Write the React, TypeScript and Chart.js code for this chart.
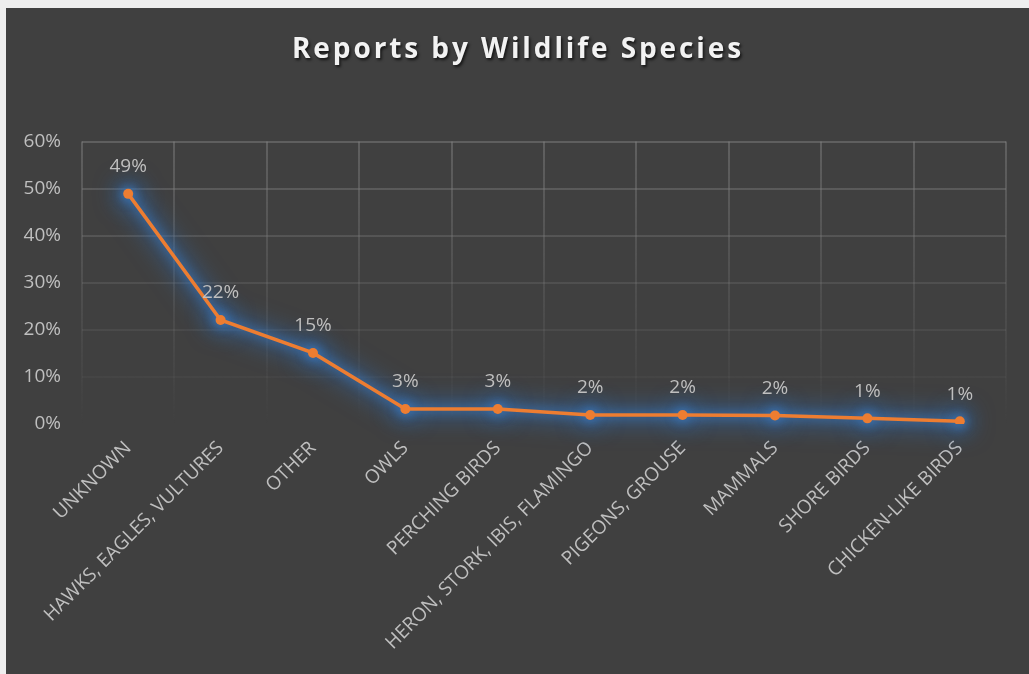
import React, { useEffect, useRef } from 'react';
import { Chart, registerables } from 'chart.js';

Chart.register(...registerables);

const TITLE = 'Reports by Wildlife Species';
const categories = [
  'UNKNOWN',
  'HAWKS, EAGLES, VULTURES',
  'OTHER',
  'OWLS',
  'PERCHING BIRDS',
  'HERON, STORK, IBIS, FLAMINGO',
  'PIGEONS, GROUSE',
  'MAMMALS',
  'SHORE BIRDS',
  'CHICKEN-LIKE BIRDS',
];
const shares = [0.489, 0.221, 0.151, 0.032, 0.032, 0.019, 0.019, 0.018, 0.012, 0.006];
const yMin = 0;
const yMax = 0.6;
const yStep = 0.1;

const pct = (v: number) => `${Math.round(v * 100)}%`;

const gridGradient = (ctx: any) => {
  const chart = ctx.chart;
  const area = chart.chartArea;
  if (!area) return 'rgba(0,0,0,0)';
  const g = chart.ctx.createLinearGradient(0, area.top, 0, area.bottom);
  g.addColorStop(0, 'rgba(125,125,125,0.52)');
  g.addColorStop(1, 'rgba(125,125,125,0)');
  return g;
};

const stylePlugin = {
  id: 'styleFx',
  beforeDraw(chart: any) {
    const tb = chart.titleBlock;
    if (tb && !tb.__wrapped) {
      const orig = tb.draw.bind(tb);
      tb.draw = (...args: any[]) => {
        const c = chart.ctx;
        c.save();
        c.translate(12, 2);
        (c as any).letterSpacing = '2.9px';
        c.shadowColor = 'rgba(0,0,0,0.7)';
        c.shadowBlur = 3;
        c.shadowOffsetX = 1.5;
        c.shadowOffsetY = 2;
        orig(...args);
        c.restore();
      };
      tb.__wrapped = true;
    }
  },
  beforeDatasetsDraw(chart: any) {
    const c = chart.ctx;
    const pts = chart.getDatasetMeta(0).data as any[];
    // soft blue glow (shadow only) beneath the series, following its own points
    const OFF = 5000;
    c.save();
    c.shadowOffsetX = OFF;
    c.shadowOffsetY = 0;
    c.strokeStyle = '#000';
    c.fillStyle = '#000';
    c.lineJoin = 'round';
    c.lineCap = 'round';
    const pass = (blur: number, color: string, lw: number, r: number) => {
      c.shadowBlur = blur;
      c.shadowColor = color;
      c.lineWidth = lw;
      c.beginPath();
      pts.forEach((p, i) => (i === 0 ? c.moveTo(p.x - OFF, p.y) : c.lineTo(p.x - OFF, p.y)));
      c.stroke();
      pts.forEach((p) => {
        c.beginPath();
        c.arc(p.x - OFF, p.y, r, 0, Math.PI * 2);
        c.fill();
      });
    };
    pass(24, 'rgba(50,110,180,0.75)', 14, 10);
    pass(10, 'rgba(60,125,200,0.5)', 8, 8);
    c.restore();
  },
  afterDatasetsDraw(chart: any) {
    const c = chart.ctx;
    const meta = chart.getDatasetMeta(0);
    const data = chart.data.datasets[0].data as number[];
    c.save();
    c.font = "19px 'Open Sans', sans-serif";
    c.fillStyle = '#bfbfbf';
    c.textAlign = 'center';
    c.textBaseline = 'middle';
    meta.data.forEach((pt: any, i: number) => {
      c.fillText(pct(data[i]), pt.x, pt.y - 27);
    });
    c.restore();
  },
};

export default function App() {
  const ref = useRef<HTMLCanvasElement>(null);

  useEffect(() => {
    document.body.style.margin = '0';
    document.body.style.background = '#eeeeee';
    Chart.defaults.font.family = "'Open Sans', sans-serif";
    const chart = new Chart(ref.current!, {
      type: 'line',
      data: {
        labels: categories,
        datasets: [
          {
            data: shares,
            borderColor: '#ED7D31',
            backgroundColor: '#ED7D31',
            borderWidth: 3.5,
            pointRadius: 5,
            pointBorderWidth: 0,
            pointBackgroundColor: '#ED7D31',
            tension: 0,
          },
        ],
      },
      options: {
        responsive: false,
        animation: false,
        devicePixelRatio: 1,
        layout: { padding: { left: 0, right: 23, top: 0, bottom: 0 } },
        plugins: {
          legend: { display: false },
          tooltip: { enabled: false },
          title: {
            display: true,
            text: TITLE,
            color: '#f2f2f2',
            font: { size: 28, weight: 'bold', family: "'Open Sans', sans-serif" },
            padding: { top: 23, bottom: 77 },
          },
        },
        scales: {
          x: {
            offset: true,
            grid: { display: true, offset: true, color: gridGradient, lineWidth: 2, drawTicks: false },
            border: { display: false },
            ticks: {
              color: '#bfbfbf',
              font: { size: 19 },
              maxRotation: 45,
              minRotation: 45,
              autoSkip: false,
              padding: 13,
            },
            afterFit: (s: any) => {
              s.height = 250;
            },
          },
          y: {
            min: yMin,
            max: yMax,
            grid: { color: gridGradient, lineWidth: 2, drawTicks: false },
            border: { display: false },
            ticks: {
              stepSize: yStep,
              color: '#bfbfbf',
              font: { size: 19 },
              padding: 21,
              callback: (v: any) => pct(Number(v)),
            },
            afterFit: (s: any) => {
              s.width = 76;
            },
          },
        },
      },
      plugins: [stylePlugin],
    });
    return () => chart.destroy();
  }, []);

  return (
    <div
      style={{
        position: 'absolute',
        left: 6,
        top: 8,
        width: 1023,
        height: 666,
        background: '#404040',
      }}
    >
      <canvas ref={ref} width={1023} height={666} style={{ display: 'block' }} />
    </div>
  );
}
